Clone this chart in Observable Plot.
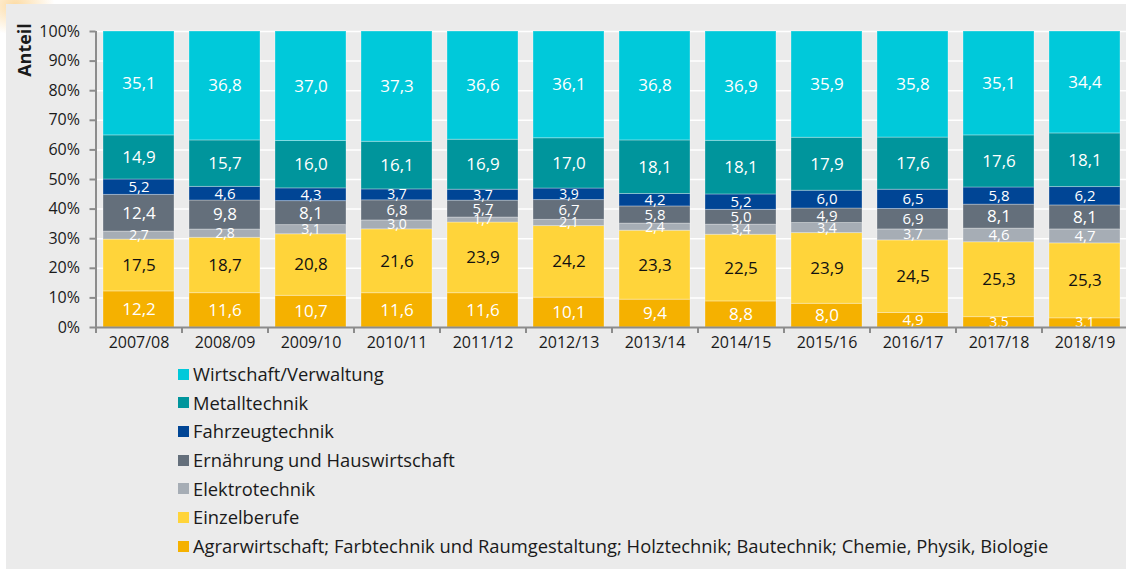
<!DOCTYPE html>
<html><head><meta charset="utf-8">
<script src="https://cdn.jsdelivr.net/npm/d3@7"></script>
<script src="https://cdn.jsdelivr.net/npm/@observablehq/plot@0.6"></script>
<style>
html,body{margin:0;padding:0;background:#fff;width:1126px;height:569px;overflow:hidden;font-family:"Open Sans",sans-serif;}
#glow{position:absolute;left:-25px;top:-25px;width:80px;height:60px;background:radial-gradient(ellipse at center, rgba(250,190,90,0.55), rgba(250,190,90,0) 70%);}
#panel{position:absolute;left:6px;top:4px;right:0;bottom:0;background:#ebebeb;}
#chart{position:absolute;left:0;top:0;}
#ylabel{position:absolute;left:24px;top:50px;transform:translate(-50%,-50%) rotate(-90deg);font-weight:700;font-size:18px;line-height:18px;color:#1a1a1a;white-space:nowrap;}
#legend{position:absolute;left:178px;top:360px;font-size:18.35px;color:#1a1a1a;}
.item{display:flex;align-items:center;height:28.67px;line-height:28.67px;white-space:nowrap;}
.sw{width:11px;height:11px;margin-right:4px;flex:none;}
</style></head>
<body>
<div id="glow"></div>
<div id="panel"></div>
<div id="chart"></div>
<div id="ylabel">Anteil</div>
<div id="legend"></div>
<script>
// Data (shares in %), stacked bottom -> top
const years = ["2007/08","2008/09","2009/10","2010/11","2011/12","2012/13","2013/14","2014/15","2015/16","2016/17","2017/18","2018/19"];
const categories = [
  "Agrarwirtschaft; Farbtechnik und Raumgestaltung; Holztechnik; Bautechnik; Chemie, Physik, Biologie",
  "Einzelberufe",
  "Elektrotechnik",
  "Ernährung und Hauswirtschaft",
  "Fahrzeugtechnik",
  "Metalltechnik",
  "Wirtschaft/Verwaltung"
];
const colors = ["#f5b100","#ffd43a","#a6adb5","#646f7b","#004595","#00959c","#00c9da"];
const agrar       = [12.2,11.6,10.7,11.6,11.6,10.1,9.4,8.8,8.0,4.9,3.5,3.1];
const einzel      = [17.5,18.7,20.8,21.6,23.9,24.2,23.3,22.5,23.9,24.5,25.3,25.3];
const elektro     = [2.7,2.8,3.1,3.0,1.7,2.1,2.4,3.4,3.4,3.7,4.6,4.7];
const ernaehrung  = [12.4,9.8,8.1,6.8,5.7,6.7,5.8,5.0,4.9,6.9,8.1,8.1];
const fahrzeug    = [5.2,4.6,4.3,3.7,3.7,3.9,4.2,5.2,6.0,6.5,5.8,6.2];
const metall      = [14.9,15.7,16.0,16.1,16.9,17.0,18.1,18.1,17.9,17.6,17.6,18.1];
const wirtschaft  = [35.1,36.8,37.0,37.3,36.6,36.1,36.8,36.9,35.9,35.8,35.1,34.4];
const series = [agrar, einzel, elektro, ernaehrung, fahrzeug, metall, wirtschaft];

const data = [];
years.forEach((yr, i) => categories.forEach((c, k) => data.push({year: yr, cat: c, value: series[k][i]})));

const fmt = v => v.toFixed(1).replace(".", ",");
const axisGray = "#8c8c8c";
const stackOpts = {x: "year", y: "value", z: "cat", order: categories, offset: "normalize"};
const labelSize = v => v < 4 ? 14 : v < 7 ? 15 : 17;

const chart = Plot.plot({
  width: 1126, height: 360,
  marginTop: 31, marginBottom: 33, marginLeft: 95.5, marginRight: 0,
  style: {background: "transparent", fontFamily: "'Open Sans', sans-serif", fontSize: "16px", color: "#1a1a1a", overflow: "visible"},
  x: {domain: years, range: [95.5, 1127.5], paddingInner: 0.17, paddingOuter: 0.085, align: 0.5, axis: null},
  y: {domain: [0, 1], axis: null},
  color: {domain: categories, range: colors},
  marks: [
    Plot.ruleY(d3.range(1, 11).map(d => d / 10), {stroke: "white", strokeWidth: 1.5}),
    Plot.barY(data, Plot.stackY({...stackOpts, fill: "cat", stroke: "white", strokeOpacity: 0.3, strokeWidth: 1})),
    Plot.text(data, Plot.stackY({...stackOpts, text: d => d.cat === "Einzelberufe" ? "" : fmt(d.value), fill: "white", fontSize: d => labelSize(d.value)})),
    Plot.text(data, Plot.stackY({...stackOpts, text: d => d.cat === "Einzelberufe" ? fmt(d.value) : "", fill: "#111", fontSize: 17})),
    Plot.ruleY([0], {stroke: axisGray, strokeWidth: 2}),
    Plot.ruleX([years[0]], {x: d => d, y1: 0, y2: 1, dx: -43, stroke: axisGray, strokeWidth: 2}),
    Plot.ruleX(years, {x: d => d, y1: 0, y2: 0, insetBottom: -6, dx: -43, stroke: axisGray, strokeWidth: 2}),
    Plot.axisY({ticks: d3.range(0, 11).map(d => d / 10), tickSize: 6, tickPadding: 10, tickFormat: d => Math.round(d * 100) + "%", stroke: axisGray, strokeWidth: 2, fill: "#1a1a1a", fontSize: 16, label: null}),
    Plot.axisX({tickSize: 0, tickPadding: 9, fill: "#1a1a1a", fontSize: 16, label: null})
  ]
});
document.getElementById("chart").appendChild(chart);

const legend = d3.select("#legend");
categories.slice().reverse().forEach((c) => {
  const row = legend.append("div").attr("class", "item");
  row.append("div").attr("class", "sw").style("background", colors[categories.indexOf(c)]);
  row.append("span").text(c);
});
</script>
</body></html>
